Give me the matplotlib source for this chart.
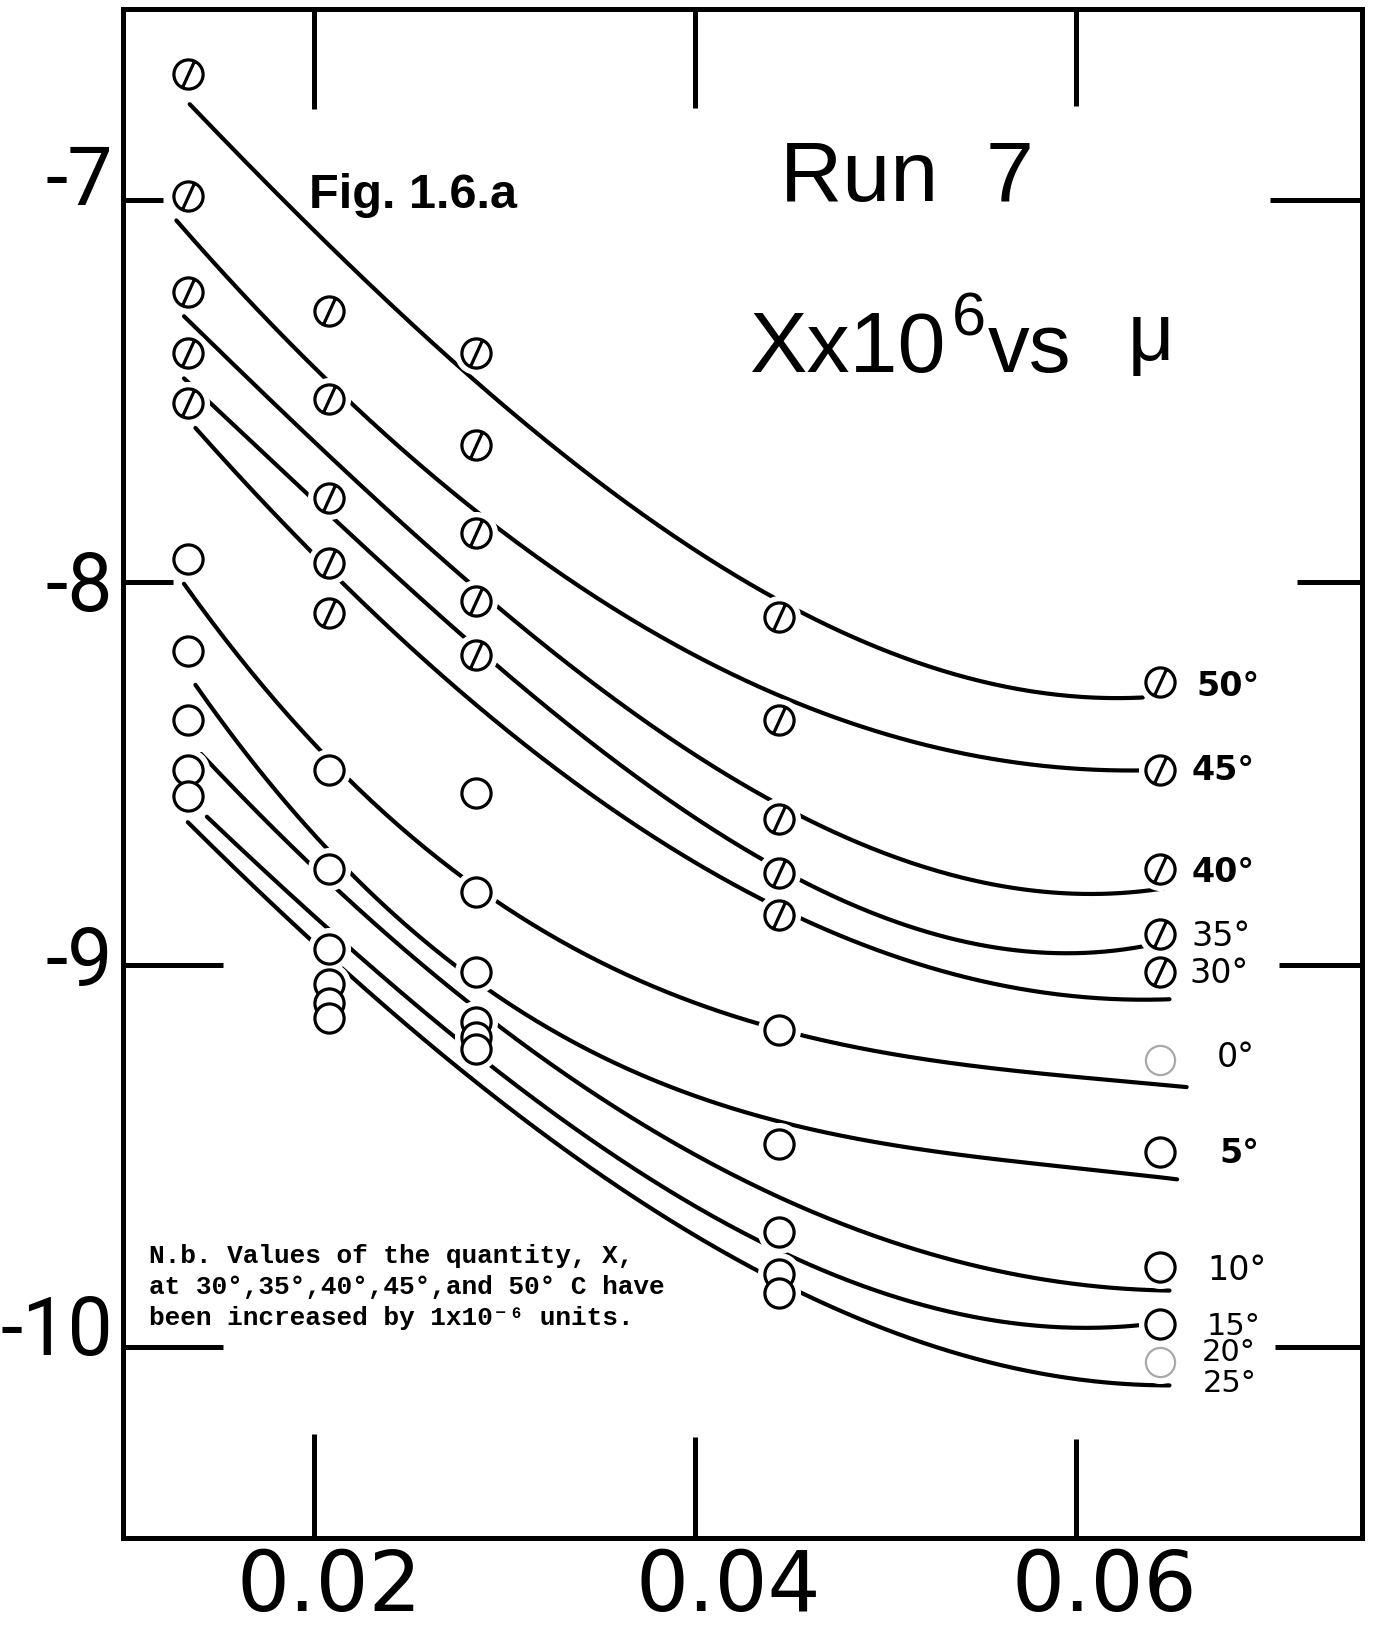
import numpy as np
import matplotlib
matplotlib.use("Agg")
import matplotlib.pyplot as plt
from matplotlib.path import Path
from matplotlib.transforms import ScaledTranslation

# ---------------------------------------------------------------- data
# ionic strength mu of the five solutions
mu = [0.0134, 0.0208, 0.0285, 0.0444, 0.0644]

# X x 10^6 at each temperature (30-50 C values raised by 1 unit)
x_50 = [-6.67, -7.29, -7.40, -8.09, -8.26]
x_45 = [-6.99, -7.52, -7.64, -8.36, -8.49]
x_40 = [-7.24, -7.78, -7.87, -8.62, -8.75]
x_35 = [-7.40, -7.95, -8.05, -8.76, -8.92]
x_30 = [-7.53, -8.08, -8.19, -8.87, -9.02]
x_0 = [-7.94, -8.49, -8.55, -9.17, -9.25]
x_5 = [-8.18, -8.75, -8.81, -9.47, -9.49]
x_10 = [-8.36, -8.96, -9.02, -9.70, -9.79]
x_15 = [-8.49, -9.05, -9.15, -9.81, -9.94]
x_20 = [-8.56, -9.10, -9.19, -9.86, -10.04]
x_25 = [np.nan, -9.14, -9.22, np.nan, np.nan]

# hand-drawn smoothing curves: values at (start, 0.02, 0.03, 0.045, end)
curve_mid_mu = [0.02, 0.03, 0.045]
curve_50 = ([0.0135, 0.0635], [-6.74, -7.10, -7.52, -8.07, -8.30])
curve_45 = ([0.0128, 0.0635], [-7.04, -7.47, -7.84, -8.32, -8.49])
curve_40 = ([0.0132, 0.0646], [-7.30, -7.64, -8.07, -8.60, -8.80])
curve_35 = ([0.0132, 0.0646], [-7.46, -7.80, -8.22, -8.77, -8.94])
curve_30 = ([0.0138, 0.0649], [-7.59, -7.94, -8.37, -8.87, -9.09])
curve_0 = ([0.0132, 0.0658], [-8.00, -8.43, -8.84, -9.18, -9.32])
curve_5 = ([0.0138, 0.0653], [-8.25, -8.70, -9.06, -9.43, -9.56])
curve_10 = ([0.0141, 0.0649], [-8.42, -8.81, -9.12, -9.64, -9.85])
curve_15 = ([0.0144, 0.0637], [-8.60, -8.90, -9.27, -9.77, -9.94])
curve_25 = ([0.0134, 0.0649], [-8.62, -8.96, -9.35, -9.85, -10.10])

x_ticks = [0.02, 0.04, 0.06]
x_tick_labels = ["0.02", "0.04", "0.06"]
y_ticks = [-10, -9, -8, -7]
y_tick_labels = ["-10", "-9", "-8", "-7"]

# ---------------------------------------------------------------- styles
W, H = 1376, 1631
fig = plt.figure(figsize=(W / 100, H / 100), dpi=100)
ax = fig.add_axes([123 / W, 1 - 1539 / H, (1362 - 123) / W, (1539 - 10) / H])
ax.set_xlim(0.01, 0.075)
ax.set_ylim(-10.5, -6.5)

for s in ax.spines.values():
    s.set_linewidth(3.6)
    s.set_color("black")

ink = "black"
faded = "#a8a8a8"
line_kw = dict(color=ink, lw=3.0, solid_capstyle="round", zorder=2)

# slashed circle used for the raised (30-50 C) series
_circ = Path.unit_circle()
_slash = Path([(-0.42, -0.92), (0.42, 0.92)], [Path.MOVETO, Path.LINETO])
slashed = Path.make_compound_path(_circ, _slash)


def smooth_curve(spec):
    (m0, m1), vals = spec
    knots = np.array([m0] + curve_mid_mu + [m1]) * 100
    c = np.polyfit(knots, vals, 3)
    m = np.linspace(m0 * 100, m1 * 100, 300)
    return m / 100, np.polyval(c, m)


curves = [curve_50, curve_45, curve_40, curve_35, curve_30,
          curve_0, curve_5, curve_10, curve_15, curve_25]
for spec in curves:
    m, v = smooth_curve(spec)
    ax.plot(m, v, **line_kw)

# (label, values, label weight, label size, label offset in points,
#  index of a faintly inked point)
hot = [("50°", x_50, "bold", 24, (26, -3), None),
       ("45°", x_45, "bold", 24, (23, 0), None),
       ("40°", x_40, "bold", 24, (23, -1.5), None),
       ("35°", x_35, "normal", 24, (23, -0.7), None),
       ("30°", x_30, "normal", 24, (21, 0), None)]
cold = [("0°", x_0, "normal", 24, (41, 3), 4),
        ("5°", x_5, "bold", 24, (43, -0.7), None),
        ("10°", x_10, "normal", 24, (34, -2), None),
        ("15°", x_15, "normal", 22, (34, -1), None),
        ("20°", x_20, "normal", 22, (30, 8), 4)]

ms = 21
halo_kw = dict(ls="none", marker="o", ms=30, mfc="white", mec="white", zorder=3)


def draw_points(vals, marker, faint):
    ax.plot(mu, vals, **halo_kw)
    strong = list(vals)
    if faint is not None:
        strong[faint] = np.nan
        ax.plot([mu[faint]], [vals[faint]], ls="none", marker=marker, ms=ms,
                mfc="white", mec=faded, mew=1.6, zorder=4)
    ax.plot(mu, strong, ls="none", marker=marker, ms=ms, mfc="white",
            mec=ink, mew=2.3, zorder=4)


for name, vals, weight, size, off, faint in hot:
    draw_points(vals, slashed, faint)
for name, vals, weight, size, off, faint in cold:
    draw_points(vals, "o", faint)
draw_points(x_25, "o", None)

# temperature labels at the right-hand end of each series
for name, vals, weight, size, off, faint in hot + cold:
    ax.annotate(name, xy=(mu[-1], vals[-1]), xytext=off,
                textcoords="offset points", ha="left", va="center",
                fontsize=size, fontweight=weight, family="DejaVu Sans",
                zorder=5)
m25, v25 = smooth_curve(curve_25)
ax.annotate("25°", xy=(m25[-1], v25[-1]), xytext=(24, 2),
            textcoords="offset points", ha="left", va="center",
            fontsize=22, family="DejaVu Sans", zorder=5)

# ---------------------------------------------------------------- axes
ax.set_xticks(x_ticks)
ax.set_xticklabels(x_tick_labels, family="DejaVu Sans", fontsize=60)
ax.set_yticks(y_ticks)
ax.set_yticklabels(y_tick_labels, family="Roboto", fontsize=58)
ax.tick_params(axis="x", direction="in", top=True, bottom=True,
               width=3.6, length=72, pad=6, color=ink)
ax.tick_params(axis="y", direction="in", left=True, right=True,
               width=3.6, length=60, pad=7, color=ink)

left_len = [72, 72, 36, 29]
right_len = [63, 60, 47, 66]
y_lift = [23, 10, 3, 27]
for t, l1, l2, dy in zip(ax.yaxis.get_major_ticks(), left_len, right_len, y_lift):
    t.tick1line.set_markersize(l1)
    t.tick2line.set_markersize(l2)
    t.label1.set_transform(t.label1.get_transform() +
                           ScaledTranslation(0, dy / 100, fig.dpi_scale_trans))
bottom_len = [75, 73, 71]
top_len = [72, 71, 70]
x_shift = [16, 33, 28]
for t, l1, l2, dx in zip(ax.xaxis.get_major_ticks(), bottom_len, top_len, x_shift):
    t.tick1line.set_markersize(l1)
    t.tick2line.set_markersize(l2)
    t.label1.set_transform(t.label1.get_transform() +
                           ScaledTranslation(dx / 100, 0, fig.dpi_scale_trans))

# ---------------------------------------------------------------- titles
def put(x, y, s, **kw):
    fig.text(x / W, 1 - y / H, s, va="baseline", ha="left", color=ink, **kw)


put(309, 208, "Fig. 1.6.a", fontsize=35, fontweight="bold",
    family="Liberation Sans")
put(780, 201, "Run  7", fontsize=62, family="Liberation Sans")
put(749, 372, "Xx10", fontsize=62, family="Liberation Sans")
put(952, 336, "6", fontsize=44, family="Liberation Sans")
put(988, 372, "vs", fontsize=60, family="Liberation Sans")
put(1128, 360, "μ", fontsize=58, family=["Liberation Sans", "DejaVu Sans"])

note = ["N.b. Values of the quantity, X,",
        "at 30°,35°,40°,45°,and 50° C have",
        "been increased by 1x10⁻⁶ units."]
for i, line in enumerate(note):
    put(149, 1263 + 31 * i, line, fontsize=18.8, fontweight="bold",
        family=["Liberation Mono", "DejaVu Sans Mono"])

fig.savefig("out.png", dpi=100, facecolor="white")
